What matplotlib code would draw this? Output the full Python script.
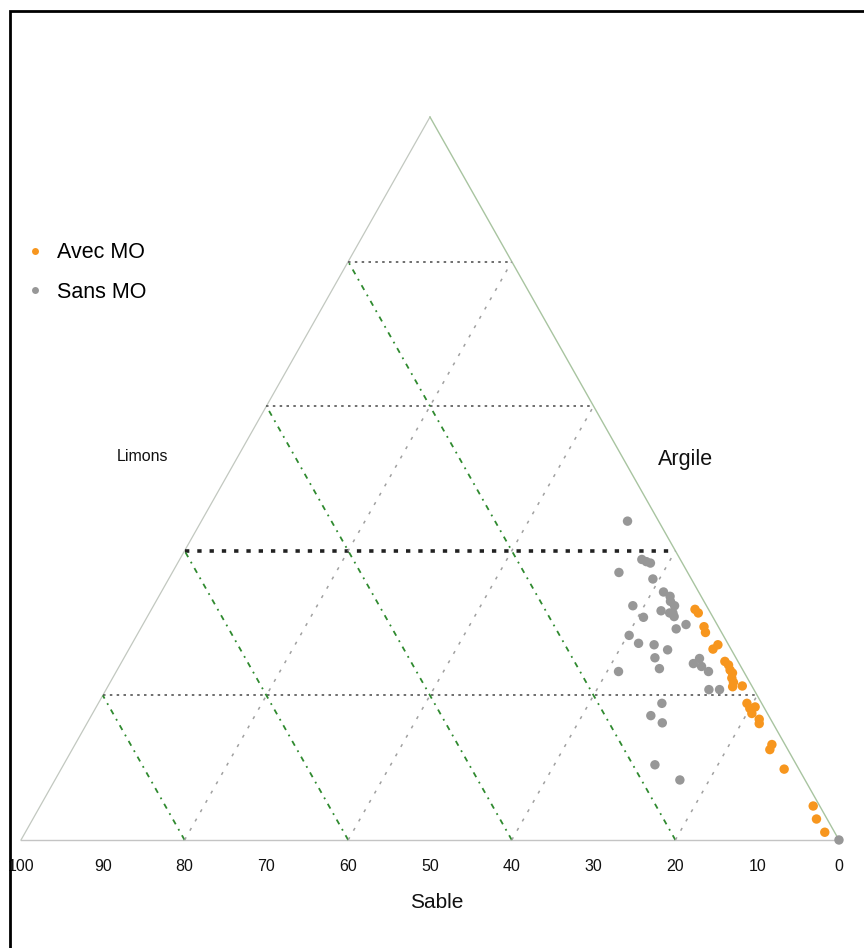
import matplotlib
matplotlib.use("Agg")
import matplotlib.pyplot as plt
from matplotlib.lines import Line2D
from matplotlib.patches import Rectangle

plt.rcParams['font.family'] = ['Liberation Sans', 'DejaVu Sans']

# ---- data (ternary %: sable, argile) ----
avec_sable = [1.65, 1.5, 1.75, 1.97, 2.2, 1.3, 1.6, 1.4, 1.56, 1.47, 1.9, 2.0, 2.4,
              1.17, 1.8, 1.8, 1.9, 1.05, 1.4, 1.7, 1.6, 2.2, 1.8, 0.8, 1.3, 1.2]
avec_argile = [31.9, 31.4, 29.5, 28.7, 26.4, 27.0, 24.7, 24.2, 23.5, 23.1, 22.4, 21.8, 21.2,
               21.3, 18.9, 18.2, 17.5, 18.4, 16.7, 16.1, 13.2, 12.5, 9.8, 4.7, 2.9, 1.07]

sans_sable = [3.8, 4.7, 4.3, 3.9, 8.4, 4.7, 4.3, 3.8, 4.1, 3.9, 9.0, 5.9, 5.0, 4.6, 8.5,
              4.7, 3.8, 5.3, 11.5, 10.9, 9.1, 7.8, 9.9, 4.5, 5.6, 4.8, 10.1, 4.3, 15.3,
              5.5, 4.2, 12.2, 14.4, 13.5, 17.3, 15.3, 0.0]
sans_argile = [44.1, 38.8, 38.5, 38.3, 37.0, 36.1, 34.3, 33.7, 33.0, 32.4, 32.4, 31.7, 31.4,
               31.4, 30.8, 30.9, 29.8, 29.2, 28.3, 27.2, 27.0, 26.3, 25.2, 25.1, 24.4, 24.0,
               23.7, 23.3, 23.3, 20.8, 20.8, 18.9, 17.2, 16.2, 10.4, 8.3, 0.0]

grid_levels = [20, 40, 60, 80]
tick_values = [100, 90, 80, 70, 60, 50, 40, 30, 20, 10, 0]
series_names = ["Avec MO", "Sans MO"]

ORANGE = "#F7961E"
GRAY = "#979797"


def tern(s, a):
    """sable, argile (%) -> cartesian (x along base, y = argile)."""
    xs = [100 - si - ai / 2 for si, ai in zip(s, a)]
    return xs, list(a)


fig = plt.figure(figsize=(8.64, 9.48), dpi=100)
ax = fig.add_axes([0, 0, 1, 1])
ax.set_xlim(-2.567, 103.06)
ax.set_ylim(-14.94, 116.18)
ax.axis("off")

# outer frame (only top and left visible in reference)
fig.patches.append(Rectangle((9.5 / 864, -0.2), 2.0, 1.2 - 11 / 948, fill=False,
                             edgecolor="black", linewidth=2.0, transform=fig.transFigure,
                             figure=fig))

# triangle edges
ax.plot([0, 100], [0, 0], color="#c4c4c4", lw=1.0, zorder=2)
ax.plot([0, 50], [0, 100], color="#c2c8c0", lw=0.9, zorder=2)
ax.plot([100, 50], [0, 100], color="#a8c4a0", lw=1.0, zorder=2)

# horizontal lines (constant argile)
for a in grid_levels:
    lw = 2.6 if a == 40 else 1.2
    col = "#222222" if a == 40 else "#555555"
    ax.plot([a / 2, 100 - a / 2], [a, a], color=col, lw=lw,
            linestyle=(0, (1.2, 2.2)) if a == 40 else (0, (1.5, 2.6)), zorder=3)

# constant sable lines (green)
for s in grid_levels:
    x, y = tern([s, s], [0, 100 - s])
    ax.plot(x, y, color="#2f8a2f", lw=1.3, linestyle=(0, (3, 3, 1, 3)), zorder=3)

# constant limons lines (gray)
for l in grid_levels:
    x, y = tern([100 - l, 0], [0, 100 - l])
    ax.plot(x, y, color="#a0a0a0", lw=1.1, linestyle=(0, (2, 5)), zorder=3)

# data
xa, ya = tern(avec_sable, avec_argile)
xs, ys = tern(sans_sable, sans_argile)
ax.scatter(xs, ys, s=46, color=GRAY, edgecolors="none", zorder=5)
ax.scatter(xa, ya, s=46, color=ORANGE, edgecolors="none", zorder=6)

# tick labels on base
for v in tick_values:
    ax.text(100 - v, -3.6, str(v), ha="center", va="center", fontsize=11.5, color="#111111")

ax.text(50.8, -8.7, "Sable", ha="center", va="center", fontsize=15, color="#111111")
ax.text(14.9, 53.0, "Limons", ha="center", va="center", fontsize=11.5, color="#111111")
ax.text(81.3, 52.6, "Argile", ha="center", va="center", fontsize=15.5, color="#111111")

handles = [Line2D([], [], marker="o", ls="", color=ORANGE, ms=5, markeredgewidth=0),
           Line2D([], [], marker="o", ls="", color=GRAY, ms=5, markeredgewidth=0)]
ax.legend(handles, series_names, loc="center left", bbox_to_anchor=(24 / 864, 1 - 272.5 / 948),
          bbox_transform=fig.transFigure, frameon=False, fontsize=15.5, handlelength=1.0,
          handletextpad=0.55, labelspacing=0.85, borderpad=0, borderaxespad=0)

fig.savefig("out.png", dpi=100, facecolor="white")
